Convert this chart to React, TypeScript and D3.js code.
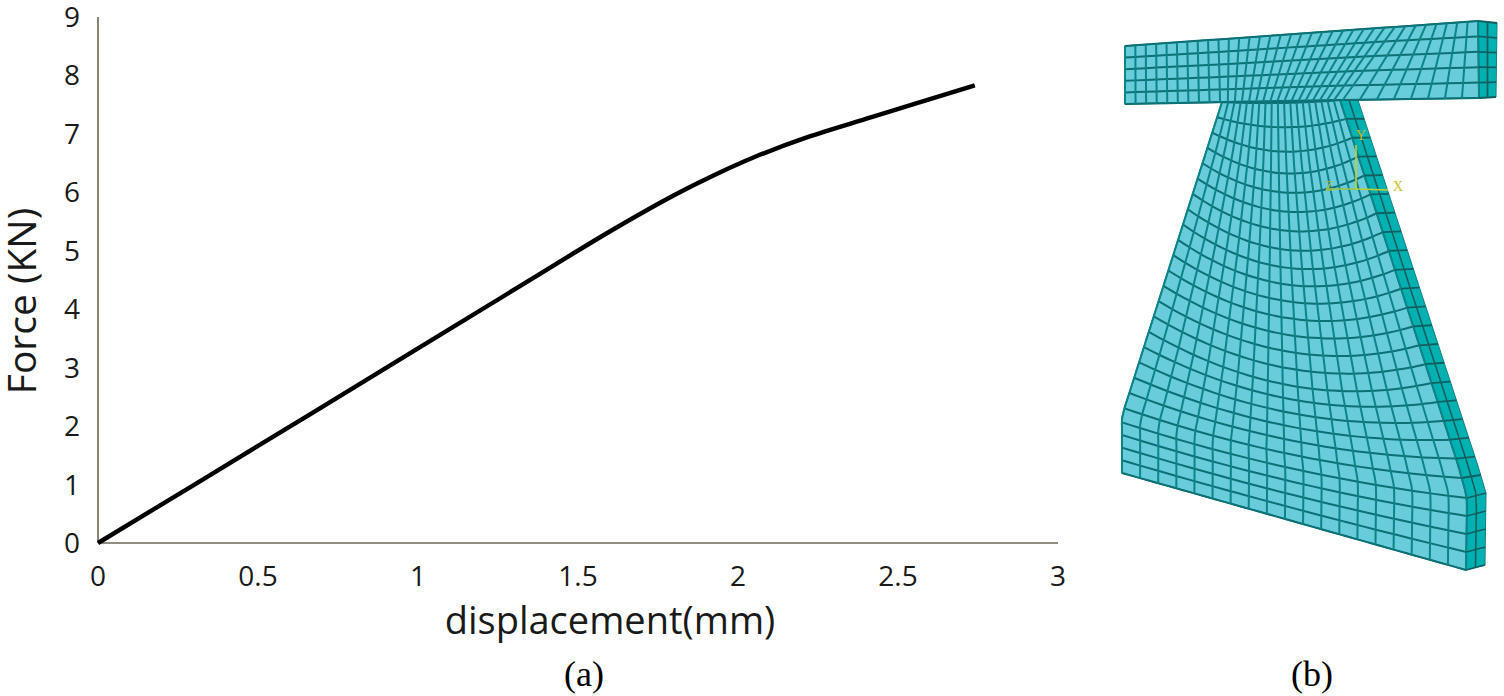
import React from "react";
import * as d3 from "d3";

const displacement = [0, 0.5, 1, 1.38, 1.59, 1.8, 1.92, 2.05, 2.215, 2.42, 2.74];
const force = [0, 1.66, 3.33, 4.6, 5.3, 5.95, 6.28, 6.6, 6.94, 7.29, 7.83];
const xTicks = [0, 0.5, 1, 1.5, 2, 2.5, 3];
const yTicks = [0, 1, 2, 3, 4, 5, 6, 7, 8, 9];

type P = [number, number];
// Mesh illustration geometry (panel b)
const webLeftEdge: P[] = [[1222, 102], [1122, 416], [1122, 473]];
const webRightEdge: P[] = [[1340, 100], [1459, 468], [1467, 498], [1466, 570]];
const webOuterEdge: P[] = [[1358, 100], [1478, 466], [1486, 493], [1485, 565]];
const webRowStops = [0, 0.82, 1];
const webSagStops = [0, 0.1, 0.3, 0.6, 0.82, 1];
const webSagValues = [2, 20, 30, 28, 10, 0];
const webRows = 25;
const webCols = 19;
const flangeTop: P[] = [[1125, 46], [1478, 21]];
const flangeBottom: P[] = [[1125, 104], [1222, 102], [1340, 100], [1479, 98]];
const flangeOuter: P[] = [[1497, 23], [1496, 97]];
const flangeBottomStops = [0, 0.27, 0.76, 1];
const flangeRows = 5;
const flangeCols = 34;
const triadOrigin: P = [1356, 189];

const WIDTH = 1504;
const HEIGHT = 696;
const x = d3.scaleLinear().domain([0, 3]).range([98, 1058]);
const y = d3.scaleLinear().domain([0, 9]).range([543, 17]);
const FONT = "'Open Sans', sans-serif";

const lerp = (a: P, b: P, t: number): P => [a[0] + (b[0] - a[0]) * t, a[1] + (b[1] - a[1]) * t];
const along = (pts: P[], t: number, stops?: number[]): P => {
  const dom = stops ?? pts.map((_, i) => i / (pts.length - 1));
  return [
    d3.scaleLinear().domain(dom).range(pts.map((p) => p[0]))(t),
    d3.scaleLinear().domain(dom).range(pts.map((p) => p[1]))(t),
  ];
};
const sag = d3.scaleLinear().domain(webSagStops).range(webSagValues);
const rightStops = [0, 0.78, 0.84, 1];
const line = d3.line<P>().curve(d3.curveCatmullRom);
const straight = d3.line<P>();

const webPoint = (u: number, v: number): P => {
  const l = along(webLeftEdge, v, webRowStops);
  const r = along(webRightEdge, v, rightStops);
  const p = lerp(l, r, u);
  const bow = 4 * u * (1 - u) * sag(v);
  return [p[0], p[1] + bow];
};

const range = (n: number) => d3.range(n + 1).map((i) => i / n);
const webRowLines = range(webRows).map((v) => range(20).map((u) => webPoint(u, v)));
const webColLines = range(webCols).map((u) => range(30).map((v) => webPoint(u, v)));
const webOutline: P[] = [
  ...range(40).map((v) => webPoint(0, v)),
  ...range(20).map((u) => webPoint(u, 1)),
  ...range(40).map((v) => webPoint(1, 1 - v)),
];
const sideFace: P[] = [...webRightEdge, ...[...webOuterEdge].reverse()];
const sideRows = range(webRows).map((v) => {
  const a = along(webRightEdge, v, rightStops);
  const b = along(webOuterEdge, v, rightStops);
  return [a, b] as P[];
});
const sideMid = range(30).map((v) =>
  lerp(along(webRightEdge, v, rightStops), along(webOuterEdge, v, rightStops), 0.5)
);

const flangeFace: P[] = [flangeTop[0], flangeTop[1], flangeBottom[3], flangeBottom[0]];
const flangeSide: P[] = [flangeTop[1], flangeOuter[0], flangeOuter[1], flangeBottom[3]];
const flangeColLines = range(flangeCols).map((u) => [
  lerp(flangeTop[0], flangeTop[1], u),
  along(flangeBottom, u, flangeBottomStops),
]) as P[][];
const flangeRowLines = range(flangeRows).map((v) =>
  range(flangeCols).map((u) =>
    lerp(lerp(flangeTop[0], flangeTop[1], u), along(flangeBottom, u, flangeBottomStops), v)
  )
);

export default function App() {
  const curve = d3
    .line<number>()
    .x((d) => x(d))
    .y((_, i) => y(force[i]))
    .curve(d3.curveCatmullRom)(displacement)!;
  return (
    <svg
      width={WIDTH}
      height={HEIGHT}
      viewBox={`0 0 ${WIDTH} ${HEIGHT}`}
      style={{ position: "absolute", left: 0, top: 0, background: "#fff" }}
    >
      <defs>
        <filter id="soft" x="-5%" y="-5%" width="110%" height="110%">
          <feGaussianBlur stdDeviation="0.5" />
        </filter>
      </defs>
      {/* panel a */}
      <line x1={x(0)} x2={x(0)} y1={y(0)} y2={y(9)} stroke="#6d6855" strokeWidth={1.6} />
      <line x1={x(0)} x2={x(3)} y1={y(0)} y2={y(0)} stroke="#6d6855" strokeWidth={1.6} />
      <path d={curve} fill="none" stroke="#000" strokeWidth={4.4} />
      {xTicks.map((t) => (
        <text key={t} x={x(t)} y={586} textAnchor="middle" fontFamily={FONT} fontSize={28} fill="#1a1a1a">
          {t}
        </text>
      ))}
      {yTicks.map((t) => (
        <text key={t} x={72} y={y(t) + 10} textAnchor="middle" fontFamily={FONT} fontSize={28} fill="#1a1a1a">
          {t}
        </text>
      ))}
      <text x={610} y={634} textAnchor="middle" fontFamily={FONT} fontSize={38} fill="#1a1a1a">
        displacement(mm)
      </text>
      <text
        transform="translate(36,301) rotate(-90)"
        textAnchor="middle"
        fontFamily={FONT}
        fontSize={39}
        fill="#1a1a1a"
      >
        Force (KN)
      </text>
      <text x={584} y={686} textAnchor="middle" fontFamily="'Liberation Serif', serif" fontSize={36} fill="#000">
        (a)
      </text>
      <text x={1312} y={686} textAnchor="middle" fontFamily="'Liberation Serif', serif" fontSize={36} fill="#000">
        (b)
      </text>

      {/* panel b */}
      <g filter="url(#soft)" fill="none" strokeLinejoin="round">
        <path d={straight(sideFace)! + "Z"} fill="#06b1b1" stroke="#0d7f80" strokeWidth={1} />
        <path d={straight(flangeSide)! + "Z"} fill="#06b1b1" stroke="#0d7f80" strokeWidth={1} />
        <path d={straight(webOutline)! + "Z"} fill="#69ccdb" stroke="#0c6f70" strokeWidth={1.5} />
        <path d={straight(flangeFace)! + "Z"} fill="#69ccdb" stroke="#0c6f70" strokeWidth={1.5} />
        {webRowLines.map((l, i) => (
          <path key={i} d={line(l)!} stroke="#0a6f74" strokeWidth={2} />
        ))}
        {webColLines.map((l, i) => (
          <path key={i} d={line(l)!} stroke="#0a8488" strokeWidth={2} />
        ))}
        {sideRows.map((l, i) => (
          <path key={i} d={straight(l)!} stroke="#0a5f62" strokeWidth={1.8} />
        ))}
        <path d={straight(sideMid)!} stroke="#0a5f62" strokeWidth={1.6} />
        {flangeRowLines.map((l, i) => (
          <path key={i} d={straight(l)!} stroke="#0a6f74" strokeWidth={2} />
        ))}
        {flangeColLines.map((l, i) => (
          <path key={i} d={straight(l)!} stroke="#0a8488" strokeWidth={2} />
        ))}
        {range(flangeRows).map((v, i) => (
          <path
            key={i}
            d={straight([lerp(flangeTop[1], flangeBottom[3], v), lerp(flangeOuter[0], flangeOuter[1], v)])!}
            stroke="#0a5f62"
            strokeWidth={1.8}
          />
        ))}
        <path
          d={straight([lerp(flangeTop[1], flangeOuter[0], 0.5), lerp(flangeBottom[3], flangeOuter[1], 0.5)])!}
          stroke="#0a5f62"
          strokeWidth={1.8}
        />
        {/* triad */}
        <path
          d={straight([[triadOrigin[0], triadOrigin[1] - 44], triadOrigin, [triadOrigin[0] + 32, triadOrigin[1] + 1]])!}
          stroke="#c9cf2a"
          strokeWidth={1.6}
        />
        <path d={straight([[triadOrigin[0] - 30, triadOrigin[1]], triadOrigin])!} stroke="#9fc34a" strokeWidth={1.6} />
      </g>
      <text x={triadOrigin[0] + 5} y={triadOrigin[1] - 49} fontFamily="'Liberation Serif', serif" fontSize={14} fill="#c9c22a" textAnchor="middle">Y</text>
      <text x={triadOrigin[0] + 42} y={triadOrigin[1] + 2} fontFamily="'Liberation Serif', serif" fontSize={14} fill="#c9c22a" textAnchor="middle">X</text>
      <text x={triadOrigin[0] - 27} y={triadOrigin[1] + 2} fontFamily="'Liberation Serif', serif" fontSize={14} fill="#a9b94a" textAnchor="middle">Z</text>
    </svg>
  );
}
